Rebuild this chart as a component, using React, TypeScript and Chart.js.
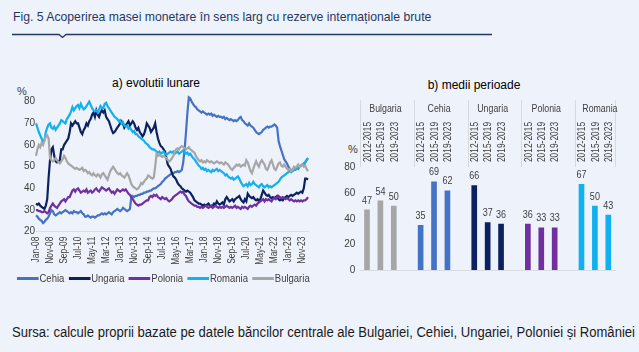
import React, { useEffect, useRef } from 'react';
import { Chart, registerables } from 'chart.js';

Chart.register(...registerables);

const FONT = '"Liberation Sans Narrow", "Arial Narrow", "Liberation Sans", Arial, sans-serif';
const NARROW = 0.84;

// ---------- a) monthly evolution (Jan-08 .. Mar-24) ----------
const monthNames = ['Jan', 'Feb', 'Mar', 'Apr', 'May', 'Jun', 'Jul', 'Aug', 'Sep', 'Oct', 'Nov', 'Dec'];
const firstYear = 2008;
const lastYear = 2024;
const monthCount = 195;

const shownTicks = [
  'Jan-08', 'Nov-08', 'Sep-09', 'Jul-10', 'May-11', 'Mar-12', 'Jan-13', 'Nov-13', 'Sep-14', 'Jul-15',
  'May-16', 'Mar-17', 'Jan-18', 'Nov-18', 'Sep-19', 'Jul-20', 'May-21', 'Mar-22', 'Jan-23', 'Nov-23',
];

const cehia = [
  27.5, 27, 26, 25.5, 25, 24, 24.5, 25.5, 26, 27, 28.5, 30,
  29.5, 28, 27.5, 28, 28.5, 29, 28.5, 29, 29.5, 30, 29.5, 29,
  28.5, 29, 28.5, 29.5, 29, 29, 28.5, 29, 29.5, 28.5, 28, 27,
  27, 27.5, 27, 26.5, 27, 27, 26.5, 27, 27.5, 27.5, 28, 28.5,
  28, 28.5, 28, 28.5, 29, 28.5, 28, 29, 29.5, 30, 30.5, 30,
  29.5, 30, 31, 30.5, 30, 29.5, 30, 30.5, 36, 36.5, 36, 36.5,
  36.5, 37, 37, 37.5, 37.5, 38, 38, 38.5, 38.5, 39, 39, 39.5,
  40, 40, 40.5, 41, 41.5, 42, 43, 43.5, 44.5, 45, 45.5, 46,
  46.5, 47, 47, 47.5, 47.5, 48, 47.5, 48, 48.5, 52, 58, 66,
  75, 82, 81.5, 80, 79, 78, 77.5, 76.5, 76, 75.5, 75, 75.5,
  75, 74.5, 74, 74.5, 74, 74.5, 73.5, 74, 73.5, 73, 73.5, 73,
  73, 72.5, 73, 72, 72.5, 72, 71.5, 72, 71.5, 71, 71.5, 71,
  71.5, 72.5, 73, 71.5, 71, 70, 69.5, 69, 70, 69, 68.5, 68,
  67, 66, 65.5, 65, 65.5, 66, 67, 67.5, 68, 68.5, 68, 68.5,
  68.5, 69, 69.5, 69, 68, 62, 59.5, 57.5, 55.5, 53.5, 52.5, 51.5,
  50, 49, 48.5, 48, 48.5, 49, 49.5, 49, 50, 50.5, 51, 51.5,
  52, 53, 54,
];

const ungaria = [
  33, 32.5, 33, 32, 31.5, 31, 30.5, 32, 35, 45, 53, 58,
  59, 55, 52.5, 52, 52.5, 53, 58, 58, 60, 61, 62, 63,
  66, 70, 69, 70, 71, 70, 70, 68, 66, 65, 67, 68,
  70, 69, 71, 72, 74, 75, 73, 76, 74, 73, 75, 76,
  75, 76, 73, 72, 71, 69, 67, 65.5, 66, 67, 68, 69,
  70, 71, 70, 68, 69, 70, 71, 69, 70, 71, 70, 68,
  67, 68, 66, 65, 64, 65, 67, 70, 69, 68, 66, 67,
  68, 70, 66, 63, 61, 59.5, 59, 58, 57, 54, 51, 50,
  49, 47, 45.5, 45, 44, 42.5, 41.5, 41, 40, 39.5, 39, 38.5,
  39, 38.5, 38, 37, 36, 34.5, 34, 33.5, 33, 33, 32.5, 32,
  32.5, 32, 32.5, 33, 32, 31.5, 32, 33, 32.5, 34, 33, 32.5,
  33, 33.5, 32.5, 35, 36, 35, 34, 34.5, 35, 34, 35, 35.5,
  36, 36.5, 35, 34, 33.5, 35, 34, 37.5, 36.5, 36, 35.5, 36,
  35, 34.5, 35, 34, 35, 37, 39, 38, 37, 36.5, 37, 36,
  35.5, 36, 35.5, 36, 36.5, 35, 34.5, 35, 34.5, 35.5, 36, 36.5,
  36, 36.5, 37, 36.5, 37, 37.5, 38, 37.5, 38, 38.5, 38, 40,
  44.5, 44.5, 44,
];

const polonia = [
  30, 30, 29.5, 29.5, 29, 29, 29.5, 29, 28.5, 29, 31, 32,
  33, 32, 31.5, 31, 32, 33, 34, 34.5, 35, 34, 35, 36,
  36, 37.5, 39, 39.5, 38.5, 39.5, 40, 39, 38, 38.5, 39, 38.5,
  39.5, 38, 38.5, 39, 38, 38.5, 39.5, 40, 39, 38.5, 39.5, 40.5,
  40, 39.5, 39, 39.5, 40, 39, 38, 38.5, 37.5, 38.5, 39.5, 39,
  38.5, 39, 39.5, 39, 39.5, 38.5, 37.5, 37, 36, 35, 34, 33,
  32.5, 32, 32.5, 32.5, 33, 33.5, 34, 34.5, 34.5, 36, 36.5, 36,
  37, 36.5, 37, 36, 35.5, 35, 36, 35.5, 35, 35.5, 34.5, 34,
  34.5, 35, 36, 36.5, 37, 37.5, 38, 38.5, 38, 38.5, 37, 36.5,
  35, 34, 33.5, 33, 32.5, 32, 32, 31.5, 31.5, 31, 31.5, 31,
  31.5, 32, 31.5, 31, 31.5, 32, 31, 31.5, 32, 31.5, 31, 31.5,
  31, 31.5, 31, 31.5, 32, 31.5, 31, 31.5, 31, 31.5, 32, 31,
  31.5, 31, 30.5, 31.5, 31, 31.5, 31, 30.5, 31.5, 32, 31.5, 32,
  32.5, 32, 33, 33.5, 34, 34.5, 35, 34, 35, 34.5, 35, 34.5,
  34, 35, 35.5, 35, 36, 36.5, 36, 35.5, 36, 35.5, 35, 35.5,
  35, 34.5, 35, 34.5, 34, 34.5, 34, 34.5, 34, 34.5, 34, 34.5,
  34.5, 35, 36,
];

const romania = [
  70, 68, 66, 64.5, 63, 61.5, 62, 66, 68, 69.5, 70, 68,
  67.5, 68.5, 67, 68, 69, 70, 71.5, 71, 70.5, 70, 72, 73,
  74, 75.5, 77.5, 76, 77, 78, 78.5, 77, 79, 77.5, 76.5, 77,
  78, 79, 80, 78.5, 77, 76, 75.5, 76, 75, 76.5, 78, 77,
  77, 79, 79.5, 78, 77, 76, 75, 74, 73, 72.5, 72, 71,
  71.5, 70, 70.5, 69, 68.5, 69, 67.5, 68, 67, 66, 66.5, 65,
  65, 64, 63.5, 63, 62.5, 62, 61, 60.5, 60, 59, 58.5, 58,
  58, 57.5, 57, 56.5, 57, 56, 56.5, 57, 56, 55.5, 56, 56.5,
  57, 56.5, 57, 56, 56.5, 57, 56, 56.5, 57, 57.5, 56.5, 56,
  56.5, 55.5, 56, 55, 54, 53.5, 52.5, 51.5, 50.5, 50, 49, 49.5,
  48.5, 49, 48, 48.5, 48, 47.5, 48.5, 48, 48.5, 49, 48, 48.5,
  48, 47.5, 47, 46, 46.5, 45.5, 45, 44.5, 45, 44, 44.5, 45,
  45.5, 44.5, 43, 42, 41, 41.5, 42, 41, 42.5, 41.5, 42, 43,
  42, 41.5, 41, 40.5, 41.5, 42, 41, 40.5, 41, 41.5, 40.5, 41,
  40.5, 41, 41.5, 42, 42.5, 43, 44, 45, 45.5, 46, 46.5, 47,
  47.5, 48, 47.5, 48.5, 49, 48.5, 49, 49.5, 50, 50.5, 51, 51,
  52, 53, 54,
];

const bulgaria = [
  55, 58, 60, 59, 61, 60, 62, 64, 64.5, 63, 54, 53,
  52.5, 53, 54, 53, 52, 51.5, 52.5, 53.5, 55, 54, 52.5, 51.5,
  51, 50.5, 50, 49.5, 49, 49.5, 49, 48.5, 49, 49.5, 48, 48.5,
  48, 47, 47.5, 46.5, 46, 47, 46, 45.5, 46.5, 46, 45, 46.5,
  47, 46, 45, 44, 46, 48, 49, 50, 49, 48, 47, 46.5,
  47, 46, 45.5, 45, 46, 47, 46, 44, 42, 41, 40.5, 40,
  39.5, 40, 41, 42.5, 42, 43, 44, 44.5, 46, 45.5, 45, 44.5,
  45, 50, 56, 55, 55.5, 55, 54.5, 55, 54.5, 54, 53, 52.5,
  53, 54, 55, 57, 58, 58.5, 58, 59, 59.5, 59, 58.5, 58,
  58.5, 59, 58, 57.5, 57, 56.5, 55, 54, 53, 52.5, 53, 52,
  52.5, 52, 53, 52.5, 52, 52.5, 52, 51.5, 52, 52.5, 52, 51.5,
  52, 51.5, 51, 52, 51.5, 51, 50, 49, 48.5, 49.5, 50, 51,
  50.5, 51, 50, 50.5, 51, 50.5, 53, 52, 50, 48, 47, 49,
  51, 52.5, 51, 50, 52, 53, 52, 51, 49, 48.5, 50, 52,
  53, 51, 49, 48.5, 50, 51.5, 52, 50.5, 50, 51, 50, 49,
  48.5, 49, 48, 48.5, 50, 49.5, 50, 51, 50, 50.5, 51, 50,
  50.5, 49, 48,
];

const seriesNames = ['Cehia', 'Ungaria', 'Polonia', 'Romania', 'Bulgaria'];
const seriesColors = ['#4472C4', '#0C2160', '#7030A0', '#12B0EE', '#A6A6A6'];
const seriesData = [cehia, ungaria, polonia, romania, bulgaria];

const months: string[] = [];
for (let y = firstYear; y <= lastYear; y++) {
  for (let m = 0; m < 12; m++) {
    months.push(`${monthNames[m]}-${String(y).slice(2)}`);
  }
}
const monthLabels = months.slice(0, monthCount);

// ---------- b) period averages ----------
const countries = ['Bulgaria', 'Cehia', 'Ungaria', 'Polonia', 'Romania'];
const periods = ['2012-2015', '2015-2019', '2019-2023'];
const avgBulgaria = [47, 54, 50];
const avgCehia = [35, 69, 62];
const avgUngaria = [66, 37, 36];
const avgPolonia = [36, 33, 33];
const avgRomania = [67, 50, 43];
const countryAverages = [avgBulgaria, avgCehia, avgUngaria, avgPolonia, avgRomania];
const countryColors = ['#A6A6A6', '#4472C4', '#0C2160', '#7030A0', '#12B0EE'];

const slotLabels: string[] = [];
const slotValues: (number | null)[] = [];
const slotColors: string[] = [];
countries.forEach((c, ci) => {
  periods.forEach((p, pi) => {
    slotLabels.push(`${c} ${p}`);
    slotValues.push(countryAverages[ci][pi]);
    slotColors.push(countryColors[ci]);
  });
  if (ci < countries.length - 1) {
    slotLabels.push('');
    slotValues.push(null);
    slotColors.push('rgba(0,0,0,0)');
  }
});

const TEXT = '#404040';
const BG = '#EEF2FA';

function narrowText(ctx: any, text: string, x: number, y: number, rot: number, sx: number) {
  ctx.save();
  ctx.translate(x, y);
  if (rot) ctx.rotate(rot);
  ctx.scale(sx, 1);
  ctx.fillText(text, 0, 0);
  ctx.restore();
}

const leftDecor = {
  id: 'leftDecor',
  afterDraw(chart: any) {
    const ctx = chart.ctx;
    const xs = chart.scales.x;
    ctx.save();
    ctx.fillStyle = TEXT;
    ctx.font = `10px ${FONT}`;
    ctx.textAlign = 'right';
    ctx.textBaseline = 'middle';
    monthLabels.forEach((lab, i) => {
      if (!shownTicks.includes(lab)) return;
      narrowText(ctx, lab, xs.getPixelForValue(i), xs.top + 5, -Math.PI / 2, NARROW);
    });
    ctx.restore();
  },
};

const rightDecor = {
  id: 'rightDecor',
  afterDatasetsDraw(chart: any) {
    const ctx = chart.ctx;
    const xs = chart.scales.x;
    const ys = chart.scales.y;
    const slot = xs.getPixelForValue(1) - xs.getPixelForValue(0);
    const top = 40;
    const sepBottom = 107;
    ctx.save();
    ctx.strokeStyle = '#D6D9DE';
    ctx.lineWidth = 1;
    countries.forEach((c, ci) => {
      const first = ci * 4;
      const left = Math.round(xs.getPixelForValue(first) - slot / 2) + 0.5;
      ctx.beginPath();
      ctx.moveTo(left, top);
      ctx.lineTo(left, sepBottom);
      ctx.stroke();
      if (ci === countries.length - 1) {
        const right = Math.round(xs.getPixelForValue(first + 2) + slot / 2) + 0.5;
        ctx.beginPath();
        ctx.moveTo(right, top);
        ctx.lineTo(right, sepBottom);
        ctx.stroke();
      }
      const cx = (xs.getPixelForValue(first) + xs.getPixelForValue(first + 2)) / 2 + 5;
      ctx.fillStyle = TEXT;
      ctx.font = `10px ${FONT}`;
      ctx.textAlign = 'center';
      ctx.textBaseline = 'middle';
      narrowText(ctx, c, cx, 49.5, 0, 0.88);
      periods.forEach((p, pi) => {
        const px = xs.getPixelForValue(first + pi);
        narrowText(ctx, p, px + 1, 82, -Math.PI / 2, NARROW);
      });
    });
    ctx.font = `10.5px ${FONT}`;
    ctx.fillStyle = TEXT;
    ctx.textAlign = 'center';
    ctx.textBaseline = 'bottom';
    slotValues.forEach((v, i) => {
      if (v === null) return;
      narrowText(ctx, String(v), xs.getPixelForValue(i), ys.getPixelForValue(v) - 4, 0, 0.86);
    });
    ctx.restore();
  },
};

function LeftChart() {
  const ref = useRef<HTMLCanvasElement | null>(null);
  useEffect(() => {
    if (!ref.current) return;
    const chart = new Chart(ref.current, {
      type: 'line',
      data: {
        labels: monthLabels,
        datasets: seriesNames.map((name, i) => ({
          label: name,
          data: seriesData[i],
          borderColor: seriesColors[i],
          backgroundColor: seriesColors[i],
          borderWidth: 2.2,
          pointRadius: 0,
          tension: 0,
          clip: false as any,
          order: seriesNames.length - i,
        })),
      },
      options: {
        animation: false,
        responsive: false,
        maintainAspectRatio: false,
        layout: { padding: { top: 41.7, right: 17, left: 0, bottom: 0 } },
        plugins: { legend: { display: false }, tooltip: { enabled: false } },
        scales: {
          x: {
            grid: { display: false, drawTicks: false },
            border: { color: '#D9DCE2' },
            ticks: { display: false },
            afterFit: (s: any) => {
              s.height = 68.3;
            },
          },
          y: {
            min: 20,
            max: 80,
            grid: { display: false, drawTicks: false },
            border: { display: false },
            ticks: { stepSize: 10, padding: 1, color: TEXT, font: { family: FONT, size: 10 } },
            afterFit: (s: any) => {
              s.width = 36;
            },
          },
        },
      },
      plugins: [leftDecor],
    });
    return () => chart.destroy();
  }, []);
  return <canvas ref={ref} width={325} height={240} style={{ position: 'absolute', left: 0, top: 60 }} />;
}

function RightChart() {
  const ref = useRef<HTMLCanvasElement | null>(null);
  useEffect(() => {
    if (!ref.current) return;
    const chart = new Chart(ref.current, {
      type: 'bar',
      data: {
        labels: slotLabels,
        datasets: [
          {
            data: slotValues,
            backgroundColor: slotColors,
            barThickness: 5,
          },
        ],
      },
      options: {
        animation: false,
        responsive: false,
        maintainAspectRatio: false,
        layout: { padding: { top: 107.7, right: 24, left: 0, bottom: 0 } },
        plugins: { legend: { display: false }, tooltip: { enabled: false } },
        scales: {
          x: {
            grid: { display: false, drawTicks: false },
            border: { color: '#D9DCE2' },
            ticks: { display: false },
            afterFit: (s: any) => {
              s.height = 30;
            },
          },
          y: {
            min: 0,
            max: 80,
            grid: { display: false, drawTicks: false },
            border: { display: false },
            ticks: { stepSize: 10, padding: 5, color: TEXT, font: { family: FONT, size: 10 } },
            afterFit: (s: any) => {
              s.width = 30.3;
            },
          },
        },
      },
      plugins: [rightDecor],
    });
    return () => chart.destroy();
  }, []);
  return <canvas ref={ref} width={309} height={240} style={{ position: 'absolute', left: 330, top: 60 }} />;
}

export default function App() {
  return (
    <div
      style={{
        position: 'absolute',
        left: 0,
        top: 0,
        width: 639,
        height: 352,
        background: BG,
        fontFamily: FONT,
        overflow: 'hidden',
      }}
    >
      <div
        style={{
          position: 'absolute',
          left: 13,
          top: 8,
          fontSize: 13.5,
          lineHeight: '18px',
          color: '#1F3864',
          whiteSpace: 'nowrap',
          transform: 'scaleX(0.905)',
          transformOrigin: '0 0',
        }}
      >
        Fig. 5 Acoperirea masei monetare în sens larg cu rezerve internaționale brute
      </div>
      <svg width={639} height={42} style={{ position: 'absolute', left: 0, top: 0 }}>
        <path d="M12 34.5 H59 L62.5 37.5 L66 34.5 H492" stroke="#1F3864" strokeWidth={1.3} fill="none" />
      </svg>
      <div style={{ position: 'absolute', left: 156, top: 75, transform: 'translateX(-50%)', fontSize: 12, lineHeight: '16px', color: '#000', whiteSpace: 'nowrap' }}>
        a) evolutii lunare
      </div>
      <div style={{ position: 'absolute', left: 474, top: 77, transform: 'translateX(-50%)', fontSize: 12, lineHeight: '16px', color: '#000', whiteSpace: 'nowrap' }}>
        b) medii perioade
      </div>
      <div style={{ position: 'absolute', left: 17, top: 84, fontSize: 11, lineHeight: '14px', color: TEXT }}>%</div>
      <div style={{ position: 'absolute', left: 348, top: 142, fontSize: 11, lineHeight: '14px', color: TEXT }}>%</div>
      <LeftChart />
      <RightChart />
      <div
        style={{
          position: 'absolute',
          left: 17,
          top: 271,
          display: 'flex',
          alignItems: 'center',
          fontSize: 11,
          lineHeight: '14px',
          color: TEXT,
          whiteSpace: 'nowrap',
          transform: 'scaleX(0.865)',
          transformOrigin: '0 0',
        }}
      >
        {seriesNames.map((n, i) => (
          <div key={n} style={{ display: 'flex', alignItems: 'center', marginRight: 5 }}>
            <span style={{ display: 'inline-block', width: 25, height: 3, background: seriesColors[i] }} />
            <span style={{ marginLeft: 1 }}>{n}</span>
          </div>
        ))}
      </div>
      <div
        style={{
          position: 'absolute',
          left: 12,
          top: 324,
          fontSize: 14,
          lineHeight: '16px',
          color: '#1A1A1A',
          whiteSpace: 'nowrap',
          transform: 'scaleX(0.933)',
          transformOrigin: '0 0',
        }}
      >
        Sursa: calcule proprii bazate pe datele băncilor centrale ale Bulgariei, Cehiei, Ungariei, Poloniei și României
      </div>
    </div>
  );
}
